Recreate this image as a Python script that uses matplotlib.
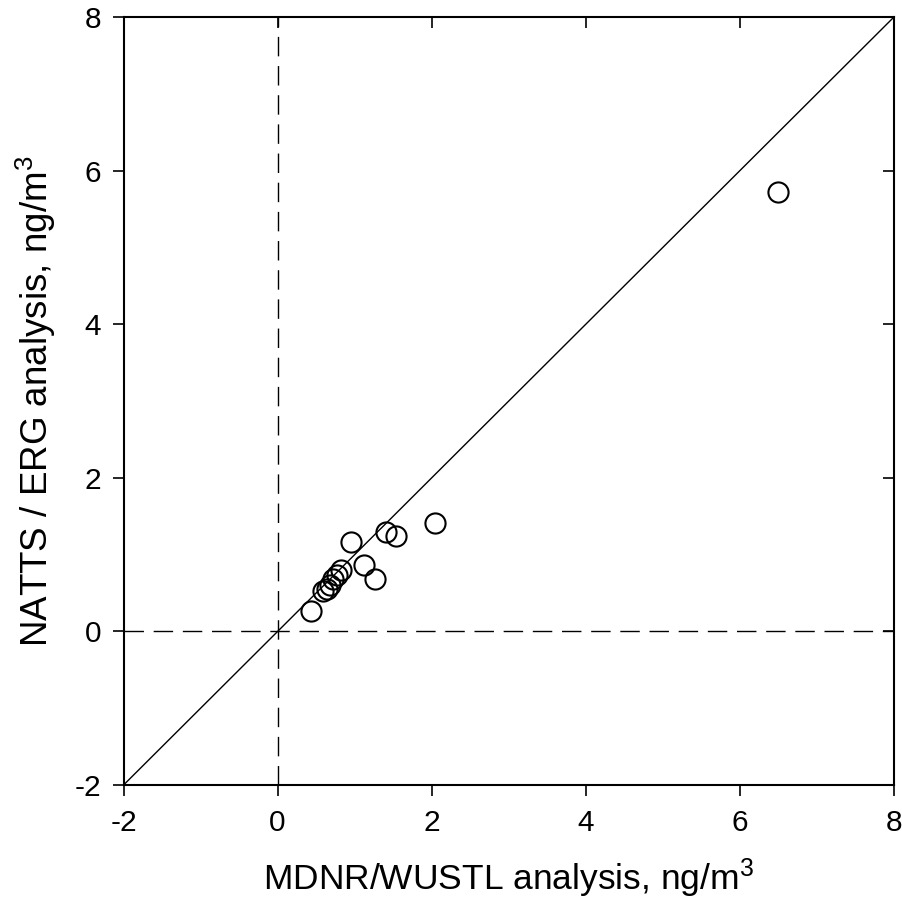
import numpy as np
import matplotlib
matplotlib.use('Agg')
import matplotlib.pyplot as plt

plt.rcParams['font.family'] = ['Liberation Sans', 'DejaVu Sans']
plt.rcParams['mathtext.fontset'] = 'custom'
plt.rcParams['mathtext.rm'] = 'Liberation Sans'
plt.rcParams['mathtext.it'] = 'Liberation Sans:italic'
plt.rcParams['axes.unicode_minus'] = False

# MDNR/WUSTL vs NATTS/ERG, ng/m3
mdnr = [0.44, 0.59, 0.64, 0.68, 0.72, 0.77, 0.83, 0.95, 1.12, 1.27, 1.41, 1.54, 2.04, 6.50]
natts = [0.27, 0.53, 0.56, 0.61, 0.68, 0.74, 0.80, 1.17, 0.87, 0.68, 1.29, 1.24, 1.42, 5.72]

lims = [-2, 8]
ticks = [-2, 0, 2, 4, 6, 8]

fig = plt.figure(figsize=(9.02, 9.05), dpi=100)
ax = fig.add_axes([0.137, 0.1326, 0.8536, 0.8481])

ax.plot(lims, lims, color='black', lw=1.0)
ax.axhline(0, color='black', lw=1.0, dashes=(14, 7))
ax.axvline(0, color='black', lw=1.0, dashes=(14, 7))
ax.plot(mdnr, natts, 'o', mfc='none', mec='black', ms=14.5, mew=1.5)

ax.set_xlim(lims)
ax.set_ylim(lims)
ax.set_xticks(ticks)
ax.set_yticks(ticks)
ax.tick_params(axis='both', which='both', labelsize=21.5, length=8, width=1.2,
               top=True, right=True)
ax.tick_params(axis='x', which='both', direction='out', pad=9)
ax.tick_params(axis='y', which='both', direction='out', pad=8)
# top and right ticks point inward
for t in ax.xaxis.get_major_ticks():
    t.tick2line.set_marker(matplotlib.lines.TICKDOWN)
for t in ax.yaxis.get_major_ticks():
    t.tick2line.set_marker(matplotlib.lines.TICKLEFT)
for s in ax.spines.values():
    s.set_linewidth(1.5)

ax.set_xlabel('MDNR/WUSTL analysis, ng/m$^3$', fontsize=25.5, labelpad=14)
ax.set_ylabel('NATTS / ERG analysis, ng/m$^3$', fontsize=26.5, labelpad=12)

plt.savefig('out.png', dpi=100)
